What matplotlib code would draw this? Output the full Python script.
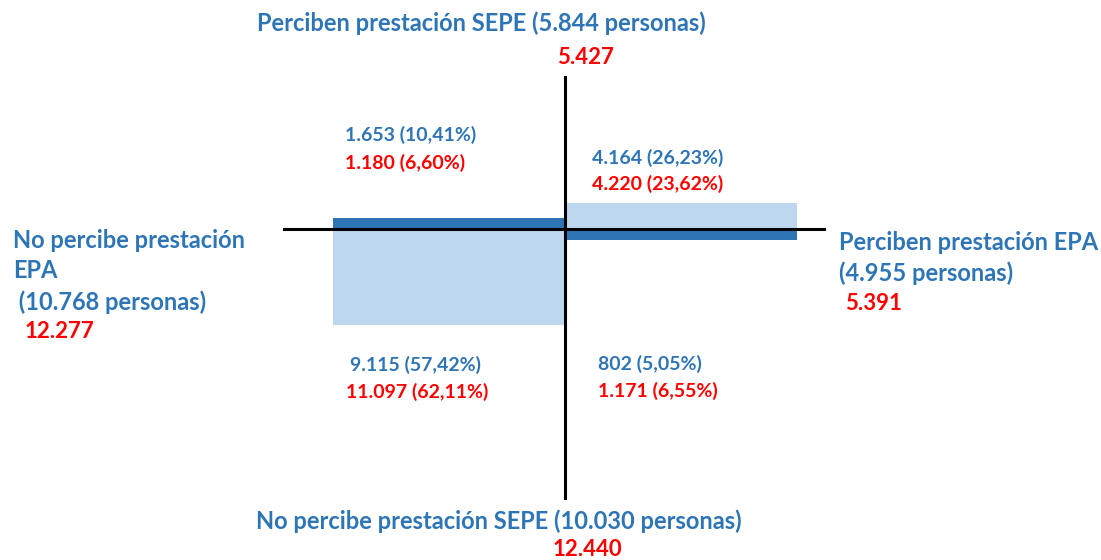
import matplotlib
matplotlib.use("Agg")
import matplotlib.pyplot as plt
from matplotlib.patches import Rectangle

# ----- Data -----
quad_blue = ["1.653 (10,41%)", "4.164 (26,23%)", "9.115 (57,42%)", "802 (5,05%)"]
quad_red = ["1.180 (6,60%)", "4.220 (23,62%)", "11.097 (62,11%)", "1.171 (6,55%)"]

top_blue = ["Perciben prestación SEPE (5.844 personas)"]
bottom_blue = ["No percibe prestación SEPE (10.030 personas)"]
left_blue = ["No percibe prestación", "EPA", " (10.768 personas)"]
right_blue = ["Perciben prestación EPA", "(4.955 personas)"]
axis_red = ["5.427", "12.440", "12.277", "5.391"]

# schematic bars (side: -1 left / +1 right), extent in px above (+) / below (-) the axis
bar_side = [-1, -1, 1, 1]
bar_height = [11, -96, 26, -11]
bar_dark = [True, False, False, True]

BLUE = "#2E75B6"
LIGHT = "#BDD7EE"
RED = "#FF0000"

plt.rcParams["font.family"] = ["Lato", "DejaVu Sans"]

fig = plt.figure(figsize=(11.01, 5.60), dpi=100)
ax = fig.add_axes([0, 0, 1, 1])
ax.set_xlim(0, 1101)
ax.set_ylim(560, 0)
ax.axis("off")

cx, cy = 564.5, 229
bar_w = 232

for s, h, d in zip(bar_side, bar_height, bar_dark):
    x0 = cx if s > 0 else cx - bar_w
    ax.add_patch(Rectangle((x0, cy - max(h, 0)), bar_w, abs(h),
                           color=BLUE if d else LIGHT, lw=0, zorder=1))

# axes cross
ax.plot([cx, cx], [77, 498], color="black", lw=2.2, zorder=2)
ax.plot([284, 824], [cy, cy], color="black", lw=2.2, zorder=2)

big = 17
num = 16
small = 14


def label(x, y, s, c, size):
    ax.text(x, y, s, color=c, fontsize=size, fontweight="bold", va="center")


# axis titles
label(257, 23, top_blue[0], BLUE, big)
label(557, 57, axis_red[0], RED, num)
label(256, 521, bottom_blue[0], BLUE, big)
label(553, 550, axis_red[1], RED, num)
for y, s in zip([241, 271, 302], left_blue):
    label(13, y, s, BLUE, big)
label(25, 332, axis_red[2], RED, num)
for y, s in zip([243, 273], right_blue):
    label(839, y, s, BLUE, big)
label(845, 304, axis_red[3], RED, num)

# quadrant values
qpos = [(345, 135), (592, 158), (350, 365), (598, 364)]
rpos = [(345, 163), (592, 184), (346, 392), (598, 391)]
for (bx, by), (rx, ry), tb, tr in zip(qpos, rpos, quad_blue, quad_red):
    label(bx, by, tb, BLUE, small)
    label(rx, ry, tr, RED, small)

fig.savefig("out.png", dpi=100)
